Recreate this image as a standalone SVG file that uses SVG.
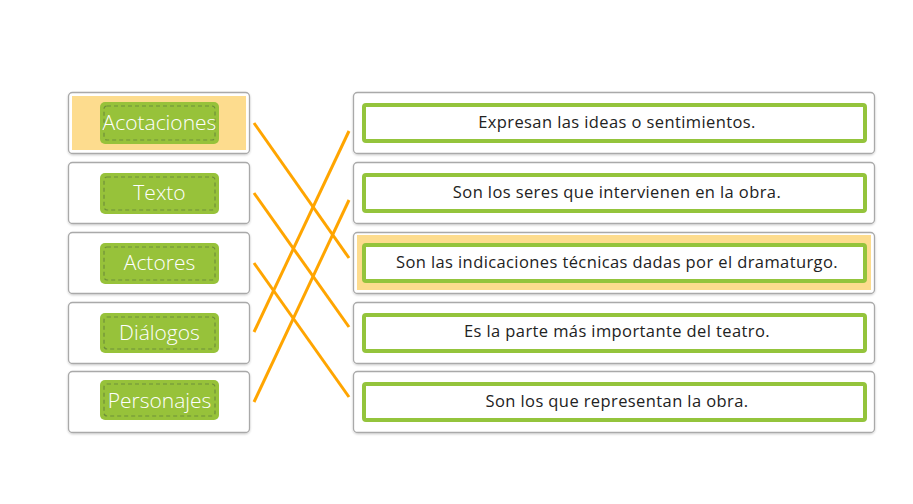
<svg xmlns="http://www.w3.org/2000/svg" width="913" height="504" viewBox="0 0 913 504">
<defs>
<style>
.card{fill:#fff;stroke:#a9a9a9;stroke-width:1.3}
.hl{fill:#fddc8e}
.btn{fill:#97c23a}
.dash{fill:none;stroke:#6f8f3a;stroke-width:1.2;stroke-dasharray:4 3}
.bt{font-family:"Open Sans","DejaVu Sans",sans-serif;font-weight:300;font-size:21px;fill:#fff;text-anchor:middle}
.inner{fill:#fff;stroke:#94c43c;stroke-width:4}
.rt{font-family:"Open Sans","DejaVu Sans",sans-serif;font-weight:400;font-size:16.5px;letter-spacing:0.4px;fill:#222;text-anchor:middle}
.ln{stroke:#ffa500;stroke-width:3;stroke-linecap:butt}
</style>
<filter id="sh" x="-5%" y="-10%" width="110%" height="130%">
<feDropShadow dx="0" dy="1" stdDeviation="1" flood-color="#000" flood-opacity="0.2"/>
</filter>
</defs>
<rect width="913" height="504" fill="#fff"/>

<g id="left-acotaciones">
<rect class="card" x="68.5" y="92.5" width="181" height="61" rx="4" filter="url(#sh)"/>
<rect class="hl" x="72" y="96" width="174" height="54"/>
<rect class="btn" x="100" y="102" width="119" height="42" rx="5"/>
<rect class="dash" x="104" y="106" width="111" height="34" rx="3"/>
<text class="bt" x="159.5" y="130">Acotaciones</text>
</g>
<g id="left-texto">
<rect class="card" x="68.5" y="162.5" width="181" height="61" rx="4" filter="url(#sh)"/>
<rect class="btn" x="100" y="173" width="119" height="41" rx="5"/>
<rect class="dash" x="104" y="177" width="111" height="33" rx="3"/>
<text class="bt" x="159.5" y="200">Texto</text>
</g>
<g id="left-actores">
<rect class="card" x="68.5" y="232.5" width="181" height="61" rx="4" filter="url(#sh)"/>
<rect class="btn" x="100" y="243" width="119" height="41" rx="5"/>
<rect class="dash" x="104" y="247" width="111" height="33" rx="3"/>
<text class="bt" x="159.5" y="270">Actores</text>
</g>
<g id="left-dialogos">
<rect class="card" x="68.5" y="302.5" width="181" height="61" rx="4" filter="url(#sh)"/>
<rect class="btn" x="100" y="313" width="119" height="40" rx="5"/>
<rect class="dash" x="104" y="317" width="111" height="32" rx="3"/>
<text class="bt" x="159.5" y="340">Diálogos</text>
</g>
<g id="left-personajes">
<rect class="card" x="68.5" y="371.5" width="181" height="61" rx="4" filter="url(#sh)"/>
<rect class="btn" x="100" y="380" width="119" height="40" rx="5"/>
<rect class="dash" x="104" y="384" width="111" height="32" rx="3"/>
<text class="bt" x="159.5" y="408">Personajes</text>
</g>

<g id="right-1">
<rect class="card" x="353.5" y="92.5" width="521" height="61" rx="4" filter="url(#sh)"/>
<rect class="inner" x="364" y="105" width="501" height="36" rx="2"/>
<text class="rt" x="617" y="128">Expresan las ideas o sentimientos.</text>
</g>
<g id="right-2">
<rect class="card" x="353.5" y="162.5" width="521" height="61" rx="4" filter="url(#sh)"/>
<rect class="inner" x="364" y="175" width="501" height="36" rx="2"/>
<text class="rt" x="617" y="198">Son los seres que intervienen en la obra.</text>
</g>
<g id="right-3">
<rect class="card" x="353.5" y="232.5" width="521" height="61" rx="4" filter="url(#sh)"/>
<rect class="hl" x="357" y="235" width="514" height="55"/>
<rect class="inner" x="364" y="245" width="501" height="36" rx="2"/>
<text class="rt" x="617" y="268">Son las indicaciones técnicas dadas por el dramaturgo.</text>
</g>
<g id="right-4">
<rect class="card" x="353.5" y="302.5" width="521" height="61" rx="4" filter="url(#sh)"/>
<rect class="inner" x="364" y="315" width="501" height="36" rx="2"/>
<text class="rt" x="617" y="337">Es la parte más importante del teatro.</text>
</g>
<g id="right-5">
<rect class="card" x="353.5" y="371.5" width="521" height="61" rx="4" filter="url(#sh)"/>
<rect class="inner" x="364" y="384" width="501" height="36" rx="2"/>
<text class="rt" x="617" y="407">Son los que representan la obra.</text>
</g>

<g id="connectors">
<line class="ln" x1="254" y1="123" x2="349" y2="258"/>
<line class="ln" x1="254" y1="193" x2="349" y2="327"/>
<line class="ln" x1="254" y1="263" x2="349" y2="397"/>
<line class="ln" x1="254" y1="332" x2="349" y2="131"/>
<line class="ln" x1="254" y1="402" x2="349" y2="200"/>
</g>
</svg>
